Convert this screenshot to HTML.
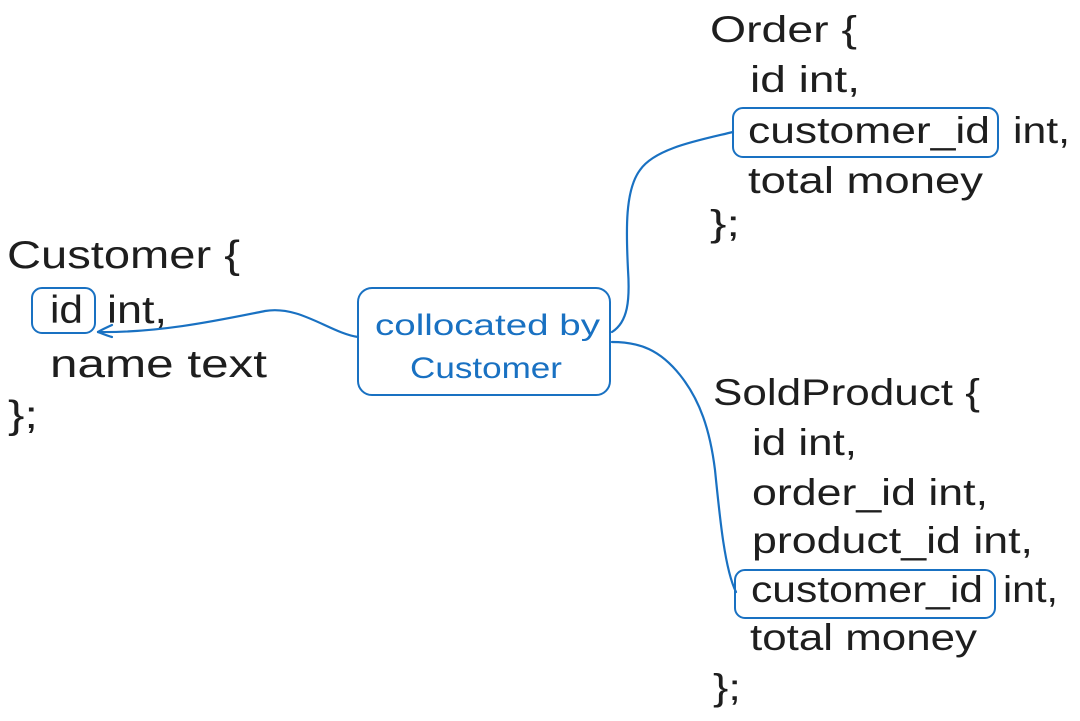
<!DOCTYPE html>
<html>
<head>
<meta charset="utf-8">
<style>
  html,body{margin:0;padding:0;background:#fff;}
  svg{display:block;}
  .t{font-family:"Liberation Sans","DejaVu Sans",sans-serif;fill:#1e1e1e;}
  .b{font-family:"Liberation Sans","DejaVu Sans",sans-serif;fill:#1971c2;}
</style>
</head>
<body>
<svg width="1080" height="721" viewBox="0 0 1080 721" xmlns="http://www.w3.org/2000/svg">
  <rect width="1080" height="721" fill="#fff"/>

  <!-- Customer block -->
  <g class="t" font-size="39">
    <text x="7" y="268" textLength="233" lengthAdjust="spacingAndGlyphs">Customer {</text>
    <text x="50" y="323" textLength="33" lengthAdjust="spacingAndGlyphs">id</text>
    <text x="107" y="323" textLength="60" lengthAdjust="spacingAndGlyphs">int,</text>
    <text x="50" y="377" textLength="217" lengthAdjust="spacingAndGlyphs">name text</text>
    <text x="8" y="428" textLength="30" lengthAdjust="spacingAndGlyphs">};</text>
  </g>
  <rect x="32" y="288" width="63" height="45" rx="10" fill="none" stroke="#1971c2" stroke-width="2"/>

  <!-- Center box -->
  <rect x="358" y="288" width="252" height="107" rx="14" fill="none" stroke="#1971c2" stroke-width="2"/>
  <g class="b" font-size="30">
    <text x="375" y="335" textLength="225" lengthAdjust="spacingAndGlyphs">collocated by</text>
    <text x="410" y="378" textLength="152" lengthAdjust="spacingAndGlyphs">Customer</text>
  </g>

  <!-- Order block -->
  <g class="t" font-size="37">
    <text x="710" y="42" textLength="147" lengthAdjust="spacingAndGlyphs">Order {</text>
    <text x="750" y="92" textLength="110" lengthAdjust="spacingAndGlyphs">id int,</text>
    <text x="748" y="143" textLength="242" lengthAdjust="spacingAndGlyphs">customer_id</text>
    <text x="1013" y="143" textLength="57" lengthAdjust="spacingAndGlyphs">int,</text>
    <text x="748" y="193" textLength="235" lengthAdjust="spacingAndGlyphs">total money</text>
    <text x="710" y="236" textLength="30" lengthAdjust="spacingAndGlyphs">};</text>
  </g>
  <rect x="733" y="108" width="265" height="49" rx="10" fill="none" stroke="#1971c2" stroke-width="2"/>

  <!-- SoldProduct block -->
  <g class="t" font-size="37">
    <text x="713" y="405" textLength="267" lengthAdjust="spacingAndGlyphs">SoldProduct {</text>
    <text x="752" y="455" textLength="105" lengthAdjust="spacingAndGlyphs">id int,</text>
    <text x="752" y="505" textLength="236" lengthAdjust="spacingAndGlyphs">order_id int,</text>
    <text x="752" y="553" textLength="281" lengthAdjust="spacingAndGlyphs">product_id int,</text>
    <text x="751" y="602" textLength="232" lengthAdjust="spacingAndGlyphs">customer_id</text>
    <text x="1003" y="602" textLength="55" lengthAdjust="spacingAndGlyphs">int,</text>
    <text x="750" y="650" textLength="227" lengthAdjust="spacingAndGlyphs">total money</text>
    <text x="713" y="700" textLength="28" lengthAdjust="spacingAndGlyphs">};</text>
  </g>
  <rect x="735" y="570" width="260" height="48" rx="10" fill="none" stroke="#1971c2" stroke-width="2"/>

  <!-- Connectors -->
  <g fill="none" stroke="#1971c2" stroke-width="2.2" stroke-linecap="round" stroke-linejoin="round">
    <path d="M358,337 C330,333 300,305 265,311 C220,320 160,333 98,332"/>
    <path d="M98,332 C103,329 108,327 112,325"/>
    <path d="M98,332 C103,334 108,336 112,337"/>
    <path d="M612,332 C628,322 630,300 628,270 C626,230 625,190 640,170 C655,148 700,140 733,132"/>
    <path d="M612,342 C640,342 660,350 680,375 C700,400 710,430 715,470 C720,520 725,570 736,592"/>
  </g>
</svg>
</body>
</html>
